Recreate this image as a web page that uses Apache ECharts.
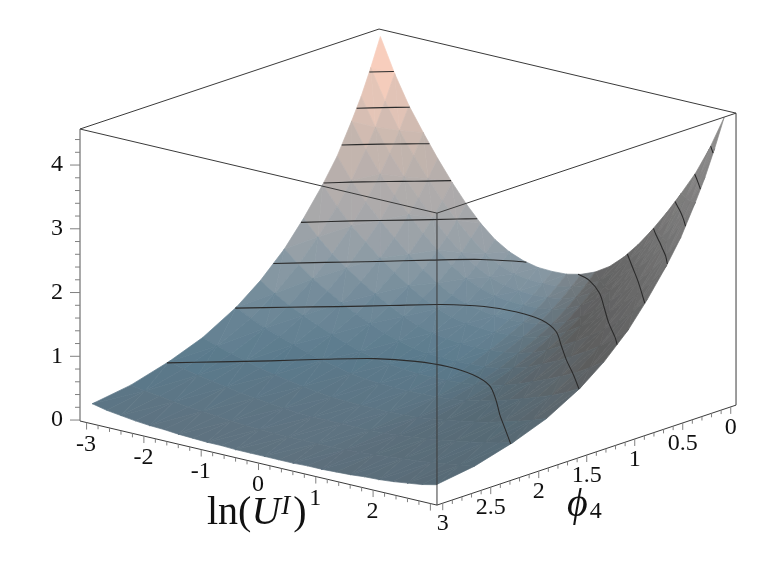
<!DOCTYPE html>
<html>
<head>
<meta charset="utf-8">
<title>surface</title>
<style>
  html, body { margin: 0; padding: 0; background: #fff; }
  #main { width: 763px; height: 574px; }
</style>
<script src="https://cdn.jsdelivr.net/npm/echarts@6/dist/echarts.min.js"></script>
</head>
<body>
<div id="main"></div>
<script>
// values
var lnU = [-3, -2.75, -2.5, -2.25, -2, -1.75, -1.5, -1.25, -1, -0.75, -0.5, -0.25, 0, 0.25, 0.5, 0.75, 1, 1.25, 1.5, 1.75, 2, 2.25, 2.5, 2.75, 3]
var phi4 = [0, 0.1, 0.2, 0.3, 0.45, 0.6, 0.8, 1, 1.25, 1.5, 1.85, 2.2, 2.6, 3]
var heights = [
  [4.50, 3.97, 3.52, 3.15, 2.80, 2.48, 2.19, 1.94, 1.74, 1.60, 1.51, 1.46, 1.45, 1.46, 1.51, 1.60, 1.74, 1.94, 2.19, 2.48, 2.80, 3.15, 3.52, 3.97, 4.50],
  [4.06, 3.59, 3.18, 2.84, 2.53, 2.24, 1.98, 1.76, 1.57, 1.44, 1.36, 1.32, 1.31, 1.32, 1.36, 1.44, 1.57, 1.76, 1.98, 2.24, 2.53, 2.84, 3.18, 3.59, 4.06],
  [3.66, 3.23, 2.87, 2.56, 2.28, 2.02, 1.78, 1.58, 1.42, 1.30, 1.23, 1.19, 1.18, 1.19, 1.23, 1.30, 1.42, 1.58, 1.78, 2.02, 2.28, 2.56, 2.87, 3.23, 3.66],
  [3.32, 2.93, 2.60, 2.32, 2.07, 1.83, 1.62, 1.43, 1.28, 1.18, 1.11, 1.08, 1.07, 1.08, 1.11, 1.18, 1.28, 1.43, 1.62, 1.83, 2.07, 2.32, 2.60, 2.93, 3.32],
  [2.85, 2.52, 2.24, 2.00, 1.78, 1.57, 1.39, 1.23, 1.10, 1.01, 0.96, 0.93, 0.92, 0.93, 0.96, 1.01, 1.10, 1.23, 1.39, 1.57, 1.78, 2.00, 2.24, 2.52, 2.85],
  [2.48, 2.19, 1.94, 1.74, 1.54, 1.37, 1.21, 1.07, 0.96, 0.88, 0.83, 0.81, 0.80, 0.81, 0.83, 0.88, 0.96, 1.07, 1.21, 1.37, 1.54, 1.74, 1.94, 2.19, 2.48],
  [2.05, 1.81, 1.60, 1.43, 1.27, 1.13, 1.00, 0.88, 0.79, 0.73, 0.69, 0.67, 0.66, 0.67, 0.69, 0.73, 0.79, 0.88, 1.00, 1.13, 1.27, 1.43, 1.60, 1.81, 2.05],
  [1.67, 1.48, 1.31, 1.17, 1.04, 0.92, 0.82, 0.72, 0.65, 0.59, 0.56, 0.55, 0.54, 0.55, 0.56, 0.59, 0.65, 0.72, 0.82, 0.92, 1.04, 1.17, 1.31, 1.48, 1.67],
  [1.30, 1.15, 1.02, 0.91, 0.81, 0.72, 0.63, 0.56, 0.50, 0.46, 0.44, 0.42, 0.42, 0.42, 0.44, 0.46, 0.50, 0.56, 0.63, 0.72, 0.81, 0.91, 1.02, 1.15, 1.30],
  [1.01, 0.89, 0.79, 0.71, 0.63, 0.56, 0.49, 0.44, 0.39, 0.36, 0.34, 0.33, 0.33, 0.33, 0.34, 0.36, 0.39, 0.44, 0.49, 0.56, 0.63, 0.71, 0.79, 0.89, 1.01],
  [0.71, 0.63, 0.56, 0.50, 0.44, 0.39, 0.35, 0.31, 0.28, 0.25, 0.24, 0.23, 0.23, 0.23, 0.24, 0.25, 0.28, 0.31, 0.35, 0.39, 0.44, 0.50, 0.56, 0.63, 0.71],
  [0.51, 0.45, 0.40, 0.36, 0.32, 0.28, 0.25, 0.22, 0.20, 0.18, 0.17, 0.17, 0.17, 0.17, 0.17, 0.18, 0.20, 0.22, 0.25, 0.28, 0.32, 0.36, 0.40, 0.45, 0.51],
  [0.34, 0.30, 0.27, 0.24, 0.21, 0.19, 0.17, 0.15, 0.13, 0.12, 0.11, 0.11, 0.11, 0.11, 0.11, 0.12, 0.13, 0.15, 0.17, 0.19, 0.21, 0.24, 0.27, 0.30, 0.34],
  [0.25, 0.20, 0.17, 0.14, 0.12, 0.11, 0.09, 0.08, 0.07, 0.07, 0.06, 0.06, 0.06, 0.06, 0.06, 0.07, 0.07, 0.08, 0.09, 0.11, 0.12, 0.14, 0.17, 0.20, 0.25]
]
var contourLevels = [0.5, 1, 1.5, 2, 2.5, 3, 3.5, 4]
var lnUTicks = ['-3', '-2', '-1', '0', '1', '2']
var phiTicks = ['0', '0.5', '1', '1.5', '2', '2.5', '3']
var zTicks = ['0', '1', '2', '3', '4']

// box limits
var uMin = -3.115, uMax = 3.115
var pMin = -0.055, pMax = 3.06
var zMin = -0.015, zMax = 4.565

// fixed view of the box: screen position of a data point
function project(u, p, z) {
  var a = u - uMin
  var d = pMax - p
  return [80 + 57.3 * a + 96 * d, 421 + 13.5 * a - 32.1 * d - 63.75 * (z - zMin)]
}

var colorStops = [
  [0, 95, 112, 125],
  [0.5, 90, 122, 140],
  [1, 110, 136, 152],
  [1.5, 140, 155, 165],
  [2, 165, 167, 170],
  [3, 198, 182, 174],
  [4, 246, 205, 188],
  [4.5, 255, 212, 194]
]

function baseColor(z) {
  for (var i = 1; i < colorStops.length; i++) {
    if (z <= colorStops[i][0]) {
      var s = colorStops[i - 1], e = colorStops[i]
      var f = (z - s[0]) / (e[0] - s[0])
      return [s[1] + (e[1] - s[1]) * f, s[2] + (e[2] - s[2]) * f, s[3] + (e[3] - s[3]) * f]
    }
  }
  return colorStops[colorStops.length - 1].slice(1)
}

function cellColor(z, slope) {
  var c = baseColor(z)
  var t = Math.max(0, Math.min(0.97, slope / 0.6))
  var g = 72 + 16 * z
  return 'rgb(' + Math.round(c[0] + (g - c[0]) * t) + ',' + Math.round(c[1] + (g - c[1]) * t) + ',' + Math.round(c[2] + (g - c[2]) * t) + ')'
}

// slope along lnU over a few columns, so rounding in the table does not show
function columnSlope(i, j) {
  var lo = Math.max(0, i - 1), hi = Math.min(lnU.length - 1, i + 2)
  return (heights[j][hi] + heights[j + 1][hi] - heights[j][lo] - heights[j + 1][lo]) / 2 / (lnU[hi] - lnU[lo])
}

// two triangles per grid cell, back corner first
var triangles = []
for (var j = 0; j < phi4.length - 1; j++) {
  for (var i = 0; i < lnU.length - 1; i++) {
    var slope = columnSlope(i, j)
    var quad = [[i, j], [i + 1, j], [i + 1, j + 1], [i, j + 1]]
    var quadMean = (heights[j][i] + heights[j][i + 1] + heights[j + 1][i] + heights[j + 1][i + 1]) / 4
    var tris = (i + j) % 2 ? [[quad[0], quad[1], quad[2]], [quad[0], quad[2], quad[3]]] : [[quad[0], quad[1], quad[3]], [quad[1], quad[2], quad[3]]]
    tris.forEach(function (t) {
      var zm = 0
      var pts = t.map(function (q) {
        var z = heights[q[1]][q[0]]
        zm += z / 3
        return project(lnU[q[0]], phi4[q[1]], z)
      })
      triangles.push({ pts: pts, color: cellColor((zm + quadMean) / 2, slope) })
    })
  }
}

// contour lines: one crossing per lnU column, ends on the phi = 0 rim
function crossing(i, level) {
  for (var j = 0; j < phi4.length - 1; j++) {
    var a = heights[j][i], b = heights[j + 1][i]
    if (a >= level && b < level) {
      return project(lnU[i], phi4[j] + (a - level) / (a - b) * (phi4[j + 1] - phi4[j]), level)
    }
  }
  return null
}
function rimCrossing(i, level) {
  var a = heights[0][i], b = heights[0][i + 1]
  return project(lnU[i] + (level - a) / (b - a) * (lnU[i + 1] - lnU[i]), 0, level)
}
// long lines keep every other column, the smoothing does the rest
function thin(pts) {
  if (pts.length < 7) return pts
  return pts.filter(function (p, n) {
    return n === 0 || n === pts.length - 1 || n % 2 === 0
  })
}
var contours = []
contourLevels.forEach(function (level) {
  var cur = null
  for (var i = 0; i < lnU.length; i++) {
    var pt = crossing(i, level)
    if (pt) {
      if (!cur) {
        cur = []
        if (i > 0) cur.push(rimCrossing(i - 1, level))
      }
      cur.push(pt)
    } else if (cur) {
      cur.push(rimCrossing(i - 1, level))
      contours.push(thin(cur))
      cur = null
    }
  }
  if (cur) contours.push(thin(cur))
})

// box edges and axis ticks
var lines = []
function addLine(a, b, color, w) {
  lines.push({ a: a, b: b, color: color, w: w })
}
var edge = '#3a3a3a', tickColor = '#808080'
var cLeft = [uMin, pMax], cFront = [uMax, pMax], cRight = [uMax, pMin], cBack = [uMin, pMin]
;[[cLeft, cFront], [cFront, cRight], [cRight, cBack], [cBack, cLeft]].forEach(function (e) {
  addLine(project(e[0][0], e[0][1], zMax), project(e[1][0], e[1][1], zMax), edge, 1)
})
addLine(project(uMin, pMax, zMin), project(uMax, pMax, zMin), edge, 1)
addLine(project(uMax, pMax, zMin), project(uMax, pMin, zMin), edge, 1)
addLine(project(uMin, pMax, zMin), project(uMin, pMax, zMax), '#555', 1)
addLine(project(uMax, pMax, zMin), project(uMax, pMax, zMax), edge, 1)
addLine(project(uMax, pMin, zMin), project(uMax, pMin, zMax), edge, 1)

var labels = []
for (var k = 0; k <= 30; k++) {
  var uv = -3 + k * 0.2
  var pu = project(uv, pMax, zMin)
  addLine(pu, [pu[0], pu[1] + (k % 5 ? 4 : 7)], tickColor, 1)
}
for (k = 0; k <= 30; k++) {
  var pp = project(uMax, k * 0.1, zMin)
  addLine(pp, [pp[0], pp[1] + (k % 5 ? 4 : 7)], tickColor, 1)
}
for (k = 0; k <= 22; k++) {
  var pz = project(uMin, pMax, k * 0.2)
  addLine(pz, [pz[0] - (k % 5 ? 5 : 10), pz[1]], tickColor, 1)
}
lnUTicks.forEach(function (t) {
  var p = project(+t, pMax, zMin)
  labels.push({ text: t, x: p[0] - 0.5, y: p[1] + 22 })
})
phiTicks.forEach(function (t) {
  var p = project(uMax, +t, zMin)
  labels.push({ text: t, x: p[0], y: p[1] + 21 })
})
zTicks.forEach(function (t) {
  var p = project(uMin, pMax, +t)
  labels.push({ text: t, x: 57, y: p[1] })
})

var chart = echarts.init(document.getElementById('main'))

function toPx(api, p) {
  return api.coord(p)
}

chart.setOption({
  animation: false,
  backgroundColor: '#fff',
  grid: { left: 0, right: 0, top: 0, bottom: 0 },
  xAxis: { type: 'value', min: 0, max: 763, show: false },
  yAxis: { type: 'value', min: 0, max: 574, inverse: true, show: false },
  series: [
    {
      type: 'custom',
      coordinateSystem: 'cartesian2d',
      clip: false,
      silent: true,
      data: triangles.map(function (t, n) { return [n] }),
      renderItem: function (params, api) {
        var t = triangles[params.dataIndex]
        return {
          type: 'polygon',
          shape: { points: t.pts.map(function (p) { return toPx(api, p) }) },
          style: { fill: t.color, stroke: t.color, lineWidth: 0.7 }
        }
      }
    },
    {
      type: 'custom',
      coordinateSystem: 'cartesian2d',
      clip: false,
      silent: true,
      data: contours.map(function (c, n) { return [n] }),
      renderItem: function (params, api) {
        return {
          type: 'polyline',
          shape: { points: contours[params.dataIndex].map(function (p) { return toPx(api, p) }), smooth: 0.3 },
          style: { fill: null, stroke: '#2b2b2b', lineWidth: 1.1 }
        }
      }
    },
    {
      type: 'custom',
      coordinateSystem: 'cartesian2d',
      clip: false,
      silent: true,
      data: lines.map(function (l, n) { return [n] }),
      renderItem: function (params, api) {
        var l = lines[params.dataIndex]
        var a = toPx(api, l.a), b = toPx(api, l.b)
        return {
          type: 'line',
          shape: { x1: a[0], y1: a[1], x2: b[0], y2: b[1] },
          style: { stroke: l.color, lineWidth: l.w }
        }
      }
    },
    {
      type: 'custom',
      coordinateSystem: 'cartesian2d',
      clip: false,
      silent: true,
      data: labels.map(function (l, n) { return [n] }),
      renderItem: function (params, api) {
        var l = labels[params.dataIndex]
        var p = toPx(api, [l.x, l.y])
        return {
          type: 'text',
          x: p[0],
          y: p[1],
          style: {
            text: l.text,
            fill: '#111',
            font: '24px "Liberation Serif"',
            align: 'center',
            verticalAlign: 'middle'
          }
        }
      }
    },
    {
      type: 'custom',
      coordinateSystem: 'cartesian2d',
      clip: false,
      silent: true,
      data: [[0], [1]],
      renderItem: function (params, api) {
        var isU = params.dataIndex === 0
        var p = toPx(api, isU ? [207, 513] : [567, 505])
        return {
          type: 'text',
          x: p[0],
          y: p[1],
          style: {
            text: isU ? '{a|ln(}{u|U}{s|I}{a|)}' : '{p|\u03D5}{b|4}',
            align: 'left',
            verticalAlign: 'middle',
            fill: '#111',
            rich: {
              a: { font: '40px "Liberation Serif"', fill: '#111' },
              u: { font: 'italic 40px "Liberation Serif"', fill: '#111' },
              s: { font: 'italic 27px "Liberation Serif"', fill: '#111', padding: [0, 3, 12, 1] },
              p: { font: 'italic 40px "Liberation Serif"', fill: '#111' },
              b: { font: '24px "Liberation Serif"', fill: '#111', padding: [14, 0, 0, 2] }
            }
          }
        }
      }
    }
  ]
})

window.addEventListener('resize', function () {
  chart.resize()
})
</script>
</body>
</html>
